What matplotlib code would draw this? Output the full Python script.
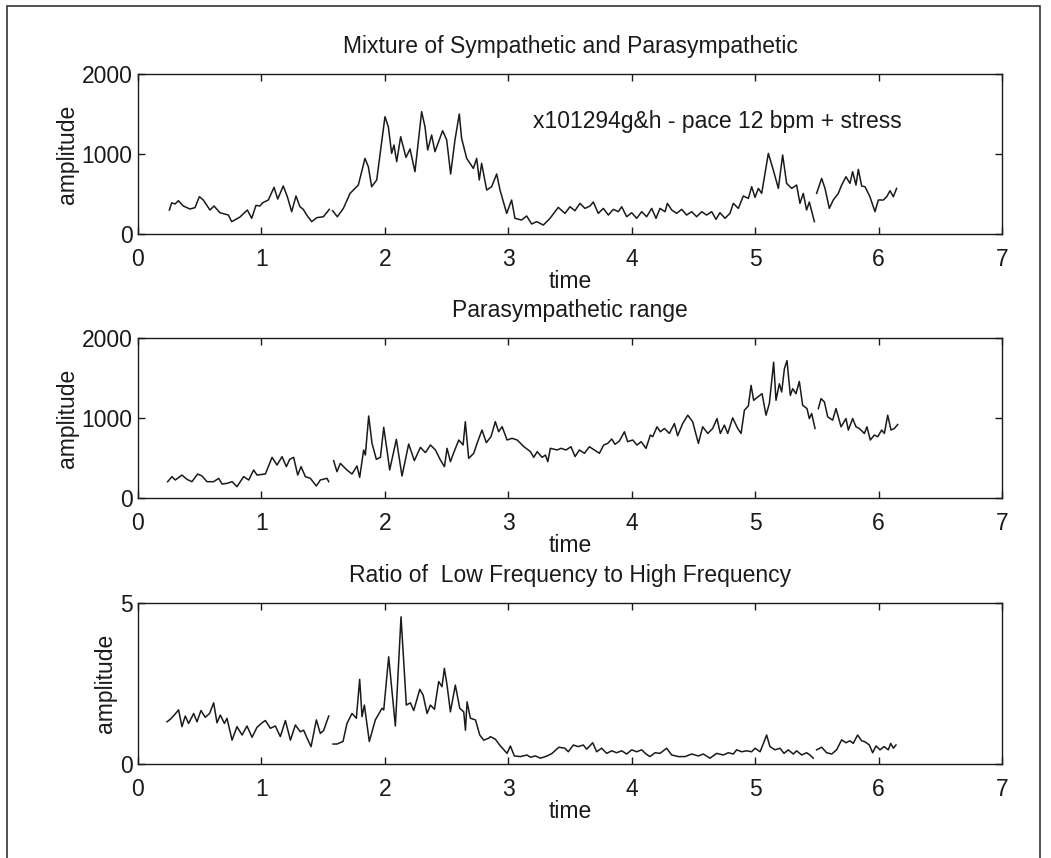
import numpy as np
import matplotlib
matplotlib.use("Agg")
import matplotlib.pyplot as plt
from matplotlib.patches import Rectangle

nan = np.nan

# ---- Panel 1: Mixture of Sympathetic and Parasympathetic ----
t1 = [0.254, 0.273, 0.300, 0.327, 0.367, 0.421, 0.462, 0.497, 0.529, 0.583, 0.616, 0.664,
      0.732, 0.759, 0.826, 0.886, 0.921, 0.956, 0.988, 1.010, 1.056, 1.102, 1.132, 1.177,
      1.210, 1.245, 1.280, 1.312, 1.339, 1.367, 1.407, 1.448, 1.502, 1.550, 1.563,
      1.577, 1.615, 1.664, 1.718, 1.785, 1.839, 1.866, 1.893, 1.934, 2.001, 2.028, 2.055,
      2.074, 2.096, 2.128, 2.171, 2.204, 2.244, 2.298, 2.325, 2.347, 2.379, 2.406, 2.468,
      2.501, 2.533, 2.568, 2.603, 2.622, 2.663, 2.717, 2.744, 2.765, 2.784, 2.825, 2.865,
      2.906, 2.933, 2.987, 3.027, 3.054, 3.108, 3.149, 3.189, 3.230, 3.284, 3.338, 3.405,
      3.459, 3.500, 3.540, 3.581, 3.621, 3.662, 3.689, 3.729, 3.770, 3.811, 3.851, 3.892,
      3.919, 3.959, 4.000, 4.040, 4.081, 4.121, 4.162, 4.197, 4.229, 4.270, 4.289, 4.324,
      4.364, 4.405, 4.445, 4.486, 4.526, 4.567, 4.607, 4.648, 4.683, 4.715, 4.756, 4.796,
      4.823, 4.864, 4.904, 4.945, 4.972, 4.999, 5.026, 5.053, 5.107, 5.147, 5.188, 5.223,
      5.255, 5.296, 5.336, 5.363, 5.390, 5.417, 5.439, 5.480, 5.489,
      5.498, 5.539, 5.566, 5.601, 5.633, 5.674, 5.701, 5.736, 5.768, 5.790, 5.817, 5.836,
      5.863, 5.890, 5.930, 5.971, 5.998, 6.039, 6.066, 6.093, 6.120, 6.146]
a1 = [300, 390, 375, 416, 350, 312, 330, 466, 425, 300, 350, 266,
      237, 154, 212, 300, 196, 358, 350, 391, 425, 583, 437, 600,
      466, 279, 475, 341, 308, 237, 154, 204, 216, 308, nan,
      291, 216, 320, 508, 612, 945, 841, 591, 675, 1466, 1341, 1008,
      1112, 904, 1216, 958, 1062, 779, 1529, 1341, 1050, 1237, 1029, 1291,
      1175, 750, 1175, 1500, 1195, 945, 820, 945, 675, 883, 550, 591,
      750, 550, 258, 425, 196, 175, 225, 125, 154, 112, 196, 333,
      258, 341, 291, 383, 320, 350, 400, 258, 320, 237, 308, 279,
      341, 216, 266, 196, 279, 216, 320, 196, 320, 279, 383, 300,
      258, 308, 237, 279, 216, 279, 237, 279, 183, 266, 196, 258,
      383, 320, 475, 445, 591, 458, 570, 508, 1008, 800, 570, 987,
      633, 570, 612, 383, 508, 300, 400, 154, nan,
      508, 695, 570, 320, 425, 508, 612, 716, 633, 779, 612, 808,
      600, 591, 466, 279, 425, 425, 466, 541, 466, 570]

# ---- Panel 2: Parasympathetic range ----
t2 = [0.240, 0.275, 0.302, 0.356, 0.397, 0.437, 0.483, 0.519, 0.559, 0.613, 0.654, 0.681,
      0.721, 0.762, 0.802, 0.856, 0.897, 0.937, 0.964, 1.032, 1.086, 1.126, 1.167, 1.202,
      1.229, 1.261, 1.294, 1.321, 1.356, 1.396, 1.445, 1.477, 1.531, 1.545, 1.565,
      1.585, 1.612, 1.639, 1.693, 1.734, 1.774, 1.796, 1.828, 1.842, 1.869, 1.896, 1.931,
      1.964, 1.991, 2.023, 2.039, 2.093, 2.139, 2.193, 2.239, 2.288, 2.329, 2.369, 2.410,
      2.450, 2.483, 2.504, 2.531, 2.558, 2.599, 2.634, 2.652, 2.679, 2.720, 2.747, 2.787,
      2.822, 2.860, 2.895, 2.922, 2.950, 2.990, 3.031, 3.072, 3.126, 3.180, 3.206, 3.234,
      3.274, 3.301, 3.320, 3.341, 3.396, 3.427, 3.468, 3.508, 3.541, 3.576, 3.617, 3.657,
      3.698, 3.738, 3.773, 3.806, 3.838, 3.865, 3.900, 3.941, 3.967, 4.008, 4.043, 4.076,
      4.116, 4.151, 4.170, 4.205, 4.232, 4.265, 4.305, 4.346, 4.372, 4.413, 4.454, 4.494,
      4.540, 4.575, 4.616, 4.656, 4.691, 4.718, 4.751, 4.778, 4.818, 4.859, 4.886, 4.913,
      4.945, 4.967, 4.988, 5.021, 5.056, 5.088, 5.115, 5.150, 5.169, 5.196, 5.215, 5.237,
      5.258, 5.285, 5.304, 5.331, 5.358, 5.385, 5.420, 5.439, 5.458, 5.485, 5.498,
      5.512, 5.534, 5.561, 5.588, 5.628, 5.655, 5.696, 5.736, 5.755, 5.790, 5.817, 5.844,
      5.885, 5.906, 5.933, 5.966, 5.993, 6.025, 6.047, 6.074, 6.101, 6.128, 6.155]
a2 = [204, 267, 225, 287, 233, 204, 300, 275, 204, 204, 246, 175,
      183, 204, 142, 267, 225, 350, 287, 300, 508, 412, 517, 392,
      483, 508, 287, 392, 267, 246, 150, 225, 246, 204, nan,
      467, 329, 433, 350, 300, 400, 258, 600, 537, 1025, 683, 483,
      508, 883, 537, 350, 733, 275, 675, 467, 633, 567, 663, 600,
      475, 392, 621, 454, 567, 725, 663, 954, 496, 558, 683, 850,
      692, 767, 954, 829, 892, 725, 746, 725, 642, 579, 508, 579,
      508, 537, 454, 621, 600, 621, 600, 641, 518, 600, 559, 641,
      600, 559, 662, 683, 737, 671, 712, 828, 704, 725, 662, 704,
      621, 787, 766, 890, 828, 869, 807, 931, 778, 931, 1035, 952,
      683, 890, 807, 869, 993, 807, 911, 807, 1002, 869, 807, 1097,
      1151, 1408, 1221, 1263, 1304, 1035, 1180, 1697, 1221, 1428, 1325, 1615,
      1718, 1283, 1366, 1304, 1457, 1159, 1118, 993, 1056, 869, nan,
      1118, 1242, 1201, 1014, 973, 1118, 890, 993, 849, 993, 890, 869,
      807, 890, 725, 787, 766, 849, 807, 1035, 849, 869, 919]

# ---- Panel 3: Ratio of Low Frequency to High Frequency ----
t3 = [0.235, 0.262, 0.294, 0.329, 0.356, 0.383, 0.410, 0.451, 0.478, 0.510, 0.545, 0.580,
      0.613, 0.640, 0.667, 0.700, 0.721, 0.762, 0.802, 0.843, 0.883, 0.924, 0.964, 1.005,
      1.032, 1.072, 1.113, 1.153, 1.194, 1.235, 1.275, 1.315, 1.342, 1.370, 1.402, 1.445,
      1.477, 1.504, 1.545, 1.562,
      1.580, 1.612, 1.661, 1.693, 1.734, 1.769, 1.796, 1.815, 1.834, 1.874, 1.923, 1.977,
      1.991, 2.031, 2.085, 2.131, 2.174, 2.207, 2.234, 2.283, 2.310, 2.342, 2.369, 2.402,
      2.436, 2.463, 2.482, 2.504, 2.531, 2.571, 2.607, 2.639, 2.653, 2.666, 2.693, 2.734,
      2.769, 2.801, 2.841, 2.855, 2.895, 2.936, 2.990, 3.017, 3.049, 3.098, 3.152, 3.179,
      3.220, 3.260, 3.315, 3.355, 3.409, 3.459, 3.486, 3.527, 3.567, 3.608, 3.635, 3.684,
      3.716, 3.756, 3.797, 3.838, 3.878, 3.919, 3.959, 4.000, 4.040, 4.081, 4.116, 4.148,
      4.189, 4.229, 4.283, 4.324, 4.378, 4.432, 4.486, 4.540, 4.580, 4.634, 4.688, 4.742,
      4.783, 4.823, 4.850, 4.891, 4.931, 4.972, 4.999, 5.040, 5.067, 5.093, 5.120, 5.161,
      5.201, 5.234, 5.269, 5.309, 5.336, 5.377, 5.417, 5.444, 5.471, 5.485,
      5.498, 5.539, 5.579, 5.620, 5.660, 5.701, 5.736, 5.768, 5.795, 5.830, 5.863, 5.890,
      5.925, 5.952, 5.979, 6.012, 6.044, 6.079, 6.098, 6.120, 6.141]
a3 = [1.31, 1.39, 1.52, 1.68, 1.16, 1.49, 1.26, 1.57, 1.31, 1.66, 1.45, 1.57,
      1.90, 1.28, 1.52, 1.26, 1.42, 0.74, 1.16, 0.90, 1.18, 0.83, 1.14, 1.28,
      1.35, 1.11, 1.18, 0.85, 1.35, 0.74, 1.21, 1.00, 1.05, 0.80, 0.54, 1.37,
      0.95, 1.04, 1.49, nan,
      0.62, 0.62, 0.70, 1.26, 1.57, 1.42, 2.63, 1.47, 1.83, 0.70, 1.37, 1.73,
      1.68, 3.33, 1.18, 4.57, 1.83, 1.90, 1.66, 2.32, 2.14, 1.57, 1.83, 1.70,
      2.56, 2.40, 2.97, 2.45, 1.62, 2.45, 1.73, 1.62, 1.05, 1.93, 1.42, 1.37,
      0.90, 0.74, 0.80, 0.85, 0.77, 0.56, 0.33, 0.56, 0.25, 0.23, 0.28, 0.21,
      0.25, 0.18, 0.25, 0.33, 0.52, 0.49, 0.38, 0.59, 0.54, 0.59, 0.46, 0.66,
      0.38, 0.49, 0.33, 0.41, 0.35, 0.41, 0.31, 0.44, 0.38, 0.44, 0.31, 0.23,
      0.35, 0.33, 0.49, 0.28, 0.23, 0.23, 0.31, 0.25, 0.31, 0.18, 0.33, 0.28,
      0.35, 0.31, 0.44, 0.38, 0.41, 0.38, 0.49, 0.38, 0.64, 0.90, 0.54, 0.44,
      0.49, 0.33, 0.44, 0.31, 0.41, 0.28, 0.35, 0.28, 0.18, nan,
      0.44, 0.52, 0.35, 0.31, 0.44, 0.75, 0.66, 0.72, 0.64, 0.90, 0.72, 0.69,
      0.59, 0.35, 0.56, 0.44, 0.54, 0.44, 0.64, 0.49, 0.59]

titles = ["Mixture of Sympathetic and Parasympathetic",
          "Parasympathetic range",
          "Ratio of  Low Frequency to High Frequency"]
note = "x101294g&h - pace 12 bpm + stress"
xticks = [0, 1, 2, 3, 4, 5, 6, 7]
yticks_amp = [0, 1000, 2000]
yticks_ratio = [0, 5]

plt.rcParams['font.family'] = ['Liberation Sans', 'DejaVu Sans']
FS = 16.5
INK = '#1a1a1a'

W, H = 1051, 858
fig = plt.figure(figsize=(W / 100, H / 100), dpi=100)


def rect(l, t, r, b):
    return [l / W, 1 - b / H, (r - l) / W, (b - t) / H]


boxes = [(138, 74, 1002, 234), (138, 338, 1002, 498), (138, 603, 1002, 764)]
series = [(t1, a1, yticks_amp), (t2, a2, yticks_amp), (t3, a3, yticks_ratio)]

axes = []
for (l, t, r, b), (tt, aa, yt), title in zip(boxes, series, titles):
    ax = fig.add_axes(rect(l, t, r, b))
    ax.plot(tt, aa, color=INK, lw=1.1)
    ax.set_xlim(0, 7)
    ax.set_ylim(yt[0], yt[-1])
    ax.set_xticks(xticks)
    ax.set_yticks(yt)
    ax.tick_params(direction='in', top=True, right=True, length=5, width=1,
                   labelsize=FS, colors=INK)
    ax.tick_params(axis='x', pad=10)
    ax.tick_params(axis='y', pad=4)
    for s in ax.spines.values():
        s.set_linewidth(1.0)
        s.set_color(INK)
    ax.set_title(title, fontsize=FS, pad=15, color=INK)
    ax.set_xlabel('time', fontsize=FS, labelpad=-1, color=INK)
    ax.set_ylabel('amplitude', fontsize=FS, labelpad=2, color=INK)
    axes.append(ax)

axes[0].text(3.2, 1410, note, fontsize=FS, va='center', ha='left', color=INK)

# outer frame of the scanned page
fig.patches.append(Rectangle((7 / W, -0.02), (1040 - 7) / W, 1.02 - 6 / H,
                             transform=fig.transFigure, fill=False,
                             edgecolor='#333333', lw=1.2))

fig.savefig('out.png', dpi=100, facecolor='white')
